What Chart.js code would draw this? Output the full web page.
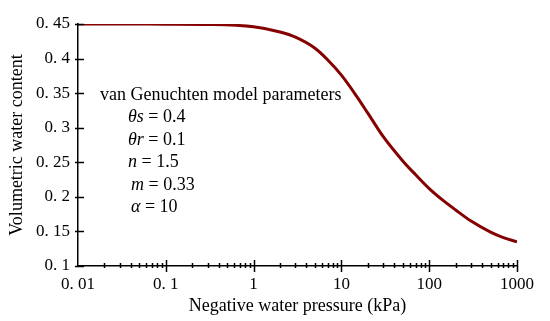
<!DOCTYPE html>
<html>
<head>
<meta charset="utf-8">
<script src="https://cdn.jsdelivr.net/npm/chart.js@4.4.1/dist/chart.umd.min.js"></script>
<style>
  html, body { margin: 0; padding: 0; background: #fff; }
  #wrap { width: 550px; height: 321px; }
</style>
</head>
<body>
<div id="wrap"><canvas id="retentionChart" width="550" height="321"></canvas></div>
<script>
// negative water pressure (kPa) and volumetric water content
const pressure = [0.01, 0.03, 0.1, 0.3, 1, 2, 3, 5, 7, 10, 15, 20, 30, 50, 70, 100, 150, 200, 300, 500, 700, 1000];
const waterContent = [0.45, 0.45, 0.4497, 0.4493, 0.446, 0.4385, 0.431, 0.415, 0.398, 0.376, 0.345, 0.321, 0.287, 0.252, 0.232, 0.212, 0.193, 0.181, 0.165, 0.149, 0.141, 0.135];

const yTickValues = [0.1, 0.15, 0.2, 0.25, 0.3, 0.35, 0.4, 0.45];
const yTickLabels = ["0. 1", "0. 15", "0. 2", "0. 25", "0. 3", "0. 35", "0. 4", "0. 45"];
const xTickValues = [0.01, 0.1, 1, 10, 100, 1000];
const xTickLabels = ["0. 01", "0. 1", "1", "10", "100", "1000"];

const paramNames = ["\u03b8s", "\u03b8r", "n", "m", "\u03b1"];
const paramValues = ["0.4", "0.1", "1.5", "0.33", "10"];

const serif = "'Liberation Serif', 'DejaVu Serif', serif";

// tick marks crossing both axes, plus the parameter box text
const axisMarks = {
    id: "axisMarks",
    afterDraw(chart) {
        const c = chart.ctx;
        const xs = chart.scales.x, ys = chart.scales.y;
        const x0 = xs.left, y0 = ys.bottom;
        c.save();
        c.strokeStyle = "#000";
        c.lineWidth = 1.5;
        c.beginPath();
        yTickValues.forEach(v => {
            const py = Math.round(ys.getPixelForValue(v)) + 0.5;
            c.moveTo(x0 - 3, py); c.lineTo(x0 + 6, py);
        });
        for (let d = 0; d < xTickValues.length - 1; d++) {
            for (let k = 2; k <= 9; k++) {
                const px = Math.round(xs.getPixelForValue(xTickValues[d] * k)) + 0.5;
                c.moveTo(px, y0 - 3); c.lineTo(px, y0 + 2);
            }
        }
        xTickValues.slice(1).forEach(v => {
            const px = Math.round(xs.getPixelForValue(v)) + 0.5;
            c.moveTo(px, y0 - 6); c.lineTo(px, y0 + 6);
        });
        c.stroke();

        c.fillStyle = "#000";
        c.textBaseline = "alphabetic";
        c.font = "18px " + serif;
        c.fillText("van Genuchten model parameters", 100, 100);
        paramNames.forEach((name, i) => {
            const bx = i < 3 ? 128 : 131;
            const by = 122 + i * 22.5;
            c.font = "italic 18px " + serif;
            c.fillText(name, bx, by);
            const w = c.measureText(name).width;
            c.font = "18px " + serif;
            c.fillText(" = " + paramValues[i], bx + w, by);
        });
        c.restore();
    }
};

const ctx = document.getElementById("retentionChart").getContext("2d");

const retentionChart = new Chart(ctx, {
    type: "line",
    data: {
        datasets: [{
            data: pressure.map((p, i) => ({ x: p, y: waterContent[i] })),
            borderColor: "#850000",
            borderWidth: 3,
            pointRadius: 0,
            cubicInterpolationMode: "monotone",
            fill: false
        }]
    },
    options: {
        responsive: false,
        animation: false,
        layout: { padding: { top: 24, right: 33, left: 0, bottom: 0 } },
        plugins: {
            legend: { display: false },
            tooltip: { enabled: false }
        },
        scales: {
            x: {
                type: "logarithmic",
                min: 0.01,
                max: 1000,
                afterBuildTicks: s => { s.ticks = xTickValues.map(v => ({ value: v })); },
                afterFit: s => { s.height = 55; },
                grid: { display: false, drawTicks: false },
                border: { display: true, color: "#000", width: 1.5 },
                ticks: {
                    autoSkip: false,
                    maxRotation: 0,
                    padding: 8,
                    color: "#000",
                    font: { family: serif, size: 17 },
                    callback: v => xTickLabels[xTickValues.indexOf(v)]
                },
                title: {
                    display: true,
                    text: "Negative water pressure (kPa)",
                    color: "#000",
                    font: { family: serif, size: 18 },
                    padding: { top: 0, bottom: 4 }
                }
            },
            y: {
                min: 0.1,
                max: 0.45,
                afterBuildTicks: s => { s.ticks = yTickValues.map(v => ({ value: v })); },
                afterFit: s => { s.width = 78; },
                grid: { display: false, drawTicks: false },
                border: { display: true, color: "#000", width: 1.5 },
                ticks: {
                    autoSkip: false,
                    padding: 8,
                    color: "#000",
                    font: { family: serif, size: 17 },
                    callback: v => yTickLabels[yTickValues.findIndex(t => Math.abs(t - v) < 1e-6)]
                },
                title: {
                    display: true,
                    text: "Volumetric water content",
                    color: "#000",
                    font: { family: serif, size: 18 },
                    padding: { top: 6, bottom: 0 }
                }
            }
        }
    },
    plugins: [axisMarks]
});
</script>
</body>
</html>
